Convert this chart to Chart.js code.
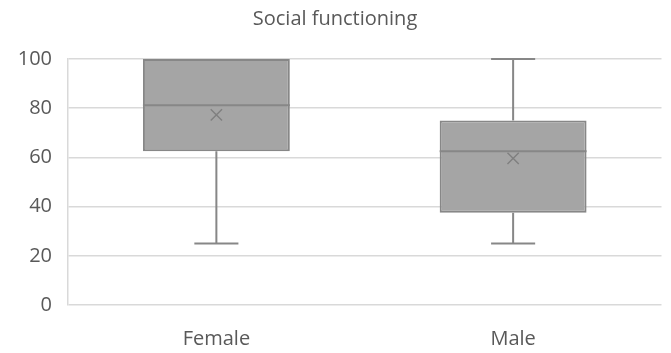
<!DOCTYPE html>
<html>
<head>
<meta charset="utf-8">
<script src="https://cdn.jsdelivr.net/npm/chart.js@4/dist/chart.umd.min.js"></script>
<style>
  html, body { margin: 0; padding: 0; background: #ffffff; }
  #wrap { width: 671px; height: 353px; }
</style>
</head>
<body>
<div id="wrap"><canvas id="chart" width="671" height="353"></canvas></div>
<script>
// Five-number summaries and means per group
const categories = ['Female', 'Male'];
const minVals    = [25, 25];
const q1Vals     = [62.5, 37.5];
const medianVals = [81.25, 62.5];
const q3Vals     = [100, 75];
const maxVals    = [100, 100];
const meanVals   = [77.3, 59.6];
const yTicks     = [0, 20, 40, 60, 80, 100];

const boxFill = '#a5a5a5';
const boxLine = '#878787';
const textColor = '#595959';
const fontFamily = "'Open Sans', 'Liberation Sans', sans-serif";

// Draws whiskers, caps and the median line using the chart's scales
const boxExtras = {
  id: 'boxExtras',
  afterDatasetsDraw(chart) {
    const ctx = chart.ctx;
    const y = chart.scales.y;
    const meta = chart.getDatasetMeta(0);
    ctx.save();
    ctx.strokeStyle = boxLine;
    ctx.lineWidth = 2;
    meta.data.forEach((bar, i) => {
      const cx = bar.x;
      const half = bar.width / 2;
      const cap = bar.width * 0.15;
      const yMin = y.getPixelForValue(minVals[i]);
      const yMax = y.getPixelForValue(maxVals[i]);
      const yQ1 = y.getPixelForValue(q1Vals[i]);
      const yQ3 = y.getPixelForValue(q3Vals[i]);
      const yMed = y.getPixelForValue(medianVals[i]);
      ctx.beginPath();
      // lower whisker
      if (minVals[i] < q1Vals[i]) {
        ctx.moveTo(cx, yQ1); ctx.lineTo(cx, yMin);
        ctx.moveTo(cx - cap, yMin); ctx.lineTo(cx + cap, yMin);
      }
      // upper whisker
      if (maxVals[i] > q3Vals[i]) {
        ctx.moveTo(cx, yQ3); ctx.lineTo(cx, yMax);
        ctx.moveTo(cx - cap, yMax); ctx.lineTo(cx + cap, yMax);
      }
      // median
      ctx.moveTo(cx - half, yMed); ctx.lineTo(cx + half, yMed);
      ctx.stroke();
    });
    ctx.restore();
  }
};

new Chart(document.getElementById('chart'), {
  type: 'bar',
  data: {
    labels: categories,
    datasets: [
      {
        type: 'bar',
        label: 'Box',
        data: categories.map((c, i) => [q1Vals[i], q3Vals[i]]),
        backgroundColor: boxFill,
        borderColor: boxLine,
        borderWidth: 2,
        borderSkipped: false,
        barPercentage: 0.495,
        categoryPercentage: 1.0,
        order: 2
      },
      {
        type: 'line',
        label: 'Mean',
        data: meanVals,
        showLine: false,
        pointStyle: 'crossRot',
        pointRadius: 8,
        pointBorderWidth: 1.5,
        borderColor: '#808080',
        backgroundColor: '#808080',
        order: 1
      }
    ]
  },
  options: {
    responsive: false,
    animation: false,
    layout: { padding: { left: 0, right: 1, top: 0, bottom: 0 } },
    plugins: {
      legend: { display: false },
      tooltip: { enabled: false },
      title: {
        display: true,
        text: 'Social functioning',
        color: textColor,
        font: { family: fontFamily, size: 20, weight: 'normal' },
        padding: { top: 7, bottom: 28 }
      }
    },
    scales: {
      x: {
        grid: { display: false, drawTicks: false },
        border: { display: false },
        ticks: { color: textColor, font: { family: fontFamily, size: 20 }, padding: 22 },
        afterFit(s) { s.height = 48; }
      },
      y: {
        min: 0,
        max: 100,
        afterBuildTicks(s) { s.ticks = yTicks.map(v => ({ value: v })); },
        grid: { color: '#d9d9d9', lineWidth: 1.5, drawTicks: false },
        border: { display: true, color: '#d9d9d9', width: 1.5 },
        ticks: { color: textColor, font: { family: fontFamily, size: 20 }, padding: 16 },
        afterFit(s) { s.width = 68; }
      }
    }
  },
  plugins: [boxExtras]
});
</script>
</body>
</html>
